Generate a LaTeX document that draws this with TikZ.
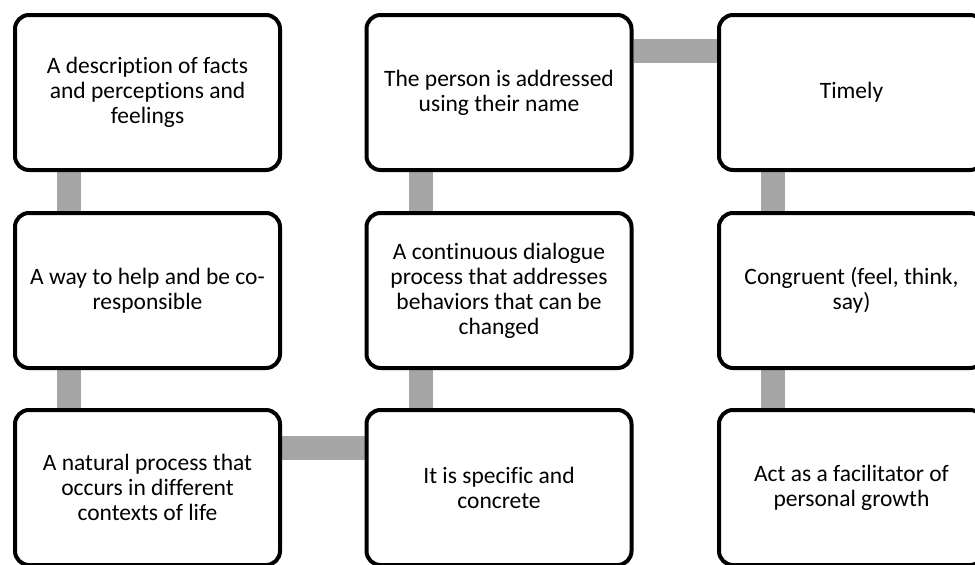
\documentclass[tikz,border=0pt]{standalone}
\usepackage{fontspec}
\setmainfont{Carlito}[Ligatures=NoCommon]
\usepackage{xcolor}
\usetikzlibrary{backgrounds}

\definecolor{linkgray}{HTML}{A6A6A6}
\tikzset{
    card/.style={draw, line width=4pt, rounded corners=14pt, fill=white,
        minimum width=265pt, minimum height=155pt, align=center,
        font=\fontsize{23.5}{25}\selectfont},
    link/.style={draw=linkgray, line width=24pt}
}

\begin{document}
\begin{tikzpicture}[x=1pt, y=-1pt]
        \useasboundingbox (0,0) rectangle (975,565);

        % First column
        \node[card] (desc)  at (147.5,92.5)  {A description of facts\\and perceptions and\\feelings};
        \node[card] (help)  at (147.5,290.5) {A way to help and be co-\\responsible};
        \node[card] (nat)   at (147.5,487.5) {A natural process that\\occurs in different\\contexts of life};

        % Second column
        \node[card] (name)  at (499,92.5)  {The person is addressed\\using their name};
        \node[card] (dial)  at (499,290.5) {A continuous dialogue\\process that addresses\\behaviors that can be\\changed};
        \node[card] (spec)  at (499,487.5) {It is specific and\\concrete};

        % Third column
        \node[card] (time)  at (851.5,92.5)  {Timely};
        \node[card] (cong)  at (851.5,290.5) {Congruent (feel, think,\\say)};
        \node[card] (grow)  at (851.5,487.5) {Act as a facilitator of\\personal growth};

        % Gray links behind the boxes
        \begin{scope}[on background layer]
            \draw[link] ([xshift=56pt]desc.south west) -- ([xshift=56pt]help.north west);
            \draw[link] ([xshift=56pt]help.south west) -- ([xshift=56pt]nat.north west);
            \draw[link] ([yshift=-40pt]nat.north east) -- ([yshift=-40pt]spec.north west);
            \draw[link] ([xshift=56pt]spec.north west) -- ([xshift=56pt]dial.south west);
            \draw[link] ([xshift=56pt]dial.north west) -- ([xshift=56pt]name.south west);
            \draw[link] ([yshift=-38pt]name.north east) -- ([yshift=-38pt]time.north west);
            \draw[link] ([xshift=56pt]time.south west) -- ([xshift=56pt]cong.north west);
            \draw[link] ([xshift=56pt]cong.south west) -- ([xshift=56pt]grow.north west);
        \end{scope}
    \end{tikzpicture}
\end{document}
